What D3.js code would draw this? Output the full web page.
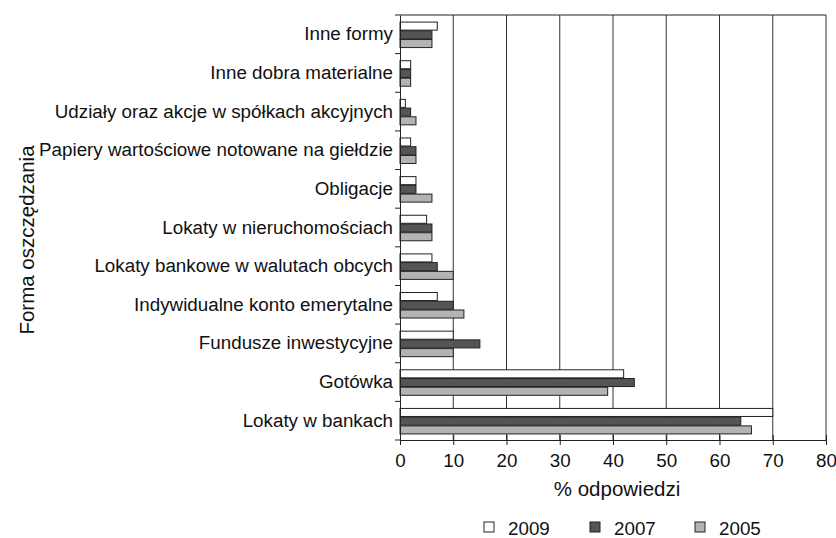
<!DOCTYPE html>
<html>
<head>
<meta charset="utf-8">
<script src="https://cdn.jsdelivr.net/npm/d3@7"></script>
<style>
  body { margin: 0; background: #fff; }
  text { font-family: "Liberation Sans", Arial, sans-serif; fill: #111; }
</style>
</head>
<body>
<div id="chart"></div>
<script>
// categories, top to bottom
var categories = [
    "Inne formy",
    "Inne dobra materialne",
    "Udziały oraz akcje w spółkach akcyjnych",
    "Papiery wartościowe notowane na giełdzie",
    "Obligacje",
    "Lokaty w nieruchomościach",
    "Lokaty bankowe w walutach obcych",
    "Indywidualne konto emerytalne",
    "Fundusze inwestycyjne",
    "Gotówka",
    "Lokaty w bankach"
];
var years = ["2009", "2007", "2005"];
var v2009 = [7, 2, 1, 2, 3, 5, 6, 7, 10, 42, 70];
var v2007 = [6, 2, 2, 3, 3, 6, 7, 10, 15, 44, 64];
var v2005 = [6, 2, 3, 3, 6, 6, 10, 12, 10, 39, 66];
var xTicks = [0, 10, 20, 30, 40, 50, 60, 70, 80];

var values = {"2009": v2009, "2007": v2007, "2005": v2005};
var colors = {"2009": "#ffffff", "2007": "#555555", "2005": "#b3b3b3"};

var width = 836, height = 538;
var margin = {top: 15, right: 10, bottom: 98, left: 400};
var fs = "18.8px";
var fsTitle = "20.5px";

var svg = d3.select("#chart").append("svg")
    .attr("width", width)
    .attr("height", height);

var x = d3.scaleLinear().domain([0, 80]).range([margin.left, 826]);
var y = d3.scaleBand().domain(categories).range([margin.top, height - margin.bottom]).padding(0);

var groupH = y.bandwidth() * 0.66;
var groupOff = (y.bandwidth() - groupH) / 2 + 0.5;
var y1 = d3.scaleBand().domain(years).range([0, groupH]).paddingInner(0.08);

// gridlines
svg.append("g")
    .selectAll("line")
    .data(xTicks.slice(1))
    .enter()
    .append("line")
    .attr("x1", d => x(d)).attr("x2", d => x(d))
    .attr("y1", margin.top).attr("y2", height - margin.bottom)
    .attr("stroke", "#333")
    .attr("stroke-width", 1);

// top frame
svg.append("line")
    .attr("x1", x(0)).attr("x2", x(80))
    .attr("y1", margin.top).attr("y2", margin.top)
    .attr("stroke", "#222");

// bars
years.forEach(function (yr) {
    svg.append("g")
        .selectAll("rect")
        .data(categories)
        .enter()
        .append("rect")
        .attr("x", x(0))
        .attr("y", d => y(d) + groupOff + y1(yr))
        .attr("width", (d, i) => x(values[yr][i]) - x(0))
        .attr("height", y1.bandwidth())
        .attr("fill", colors[yr])
        .attr("stroke", "#222")
        .attr("stroke-width", 1);
});

// x axis
var xAxis = svg.append("g")
    .attr("transform", "translate(0," + (height - margin.bottom) + ")")
    .call(d3.axisBottom(x).tickValues(xTicks).tickSize(5).tickPadding(9).tickSizeOuter(0));
xAxis.selectAll(".tick line").attr("y1", -5).attr("stroke", "#222");
xAxis.select(".domain").attr("stroke", "#222");
xAxis.selectAll("text").style("font-size", fs).attr("fill", "#111");

// y axis (labels)
var yAxis = svg.append("g")
    .attr("transform", "translate(" + x(0) + ",0)")
    .call(d3.axisLeft(y).tickSize(0).tickPadding(7).tickSizeOuter(0));
yAxis.select(".domain").attr("stroke", "#222");
yAxis.selectAll("text").style("font-size", fs).attr("fill", "#111");

// y ticks at band boundaries
var bounds = categories.map(d => y(d)).concat([y.range()[1]]);
svg.append("g")
    .selectAll("line")
    .data(bounds)
    .enter()
    .append("line")
    .attr("x1", x(0) - 5).attr("x2", x(0))
    .attr("y1", d => d).attr("y2", d => d)
    .attr("stroke", "#222");

// axis titles
svg.append("text")
    .attr("x", (x(0) + x(80)) / 2 + 4)
    .attr("y", 496)
    .attr("text-anchor", "middle")
    .style("font-size", fsTitle)
    .text("% odpowiedzi");

svg.append("text")
    .attr("transform", "translate(34," + 240 + ") rotate(-90)")
    .attr("text-anchor", "middle")
    .style("font-size", fsTitle)
    .text("Forma oszczędzania");

// legend
var legendX = [484, 590, 695];
var legend = svg.append("g")
    .selectAll("g")
    .data(years)
    .enter()
    .append("g")
    .attr("transform", (d, i) => "translate(" + legendX[i] + ",522)");
legend.append("rect")
    .attr("width", 10).attr("height", 10)
    .attr("fill", d => colors[d])
    .attr("stroke", "#222");
legend.append("text")
    .attr("x", 24).attr("y", 13)
    .style("font-size", fs)
    .text(d => d);
</script>
</body>
</html>
